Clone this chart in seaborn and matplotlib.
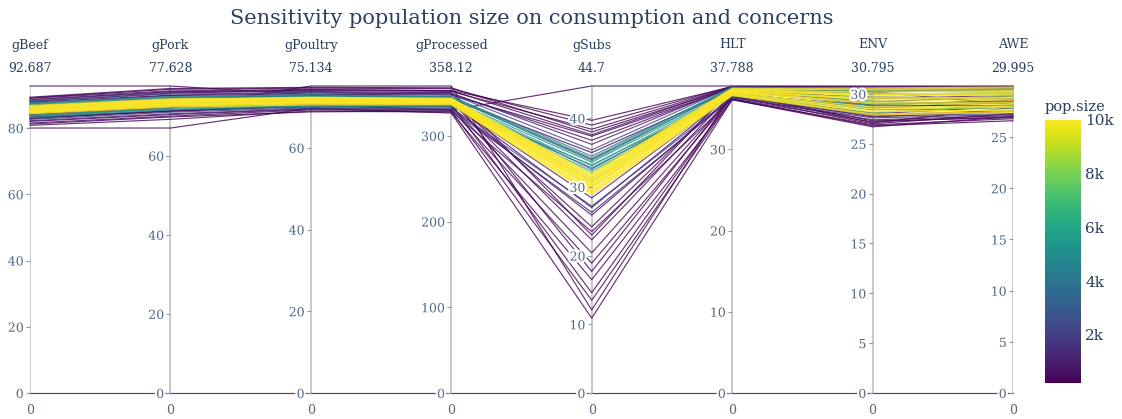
import matplotlib
matplotlib.use("Agg")
import matplotlib.pyplot as plt
import numpy as np
import pandas as pd
import seaborn as sns
from matplotlib import patheffects as pe
from matplotlib.ticker import MultipleLocator
from matplotlib.colors import Normalize
from matplotlib.cm import ScalarMappable

# ---- data: one record per simulation run, grouped by population size ----
dimensions = ["gBeef", "gPork", "gPoultry", "gProcessed", "gSubs", "HLT", "ENV", "AWE"]
tick_steps = [20, 20, 20, 100, 10, 10, 5, 5]

gBeef = [0, 92.687, 83.7, 82.8, 80.0, 81.2, 84.2, 86.7, 88.0, 89.3,
         80.8, 82.0, 83.4, 84.8, 86.0, 87.3, 88.6, 89.1,
         81.5, 83.0, 84.4, 86.2, 87.8, 89.0,
         82.2, 84.1, 86.9, 88.5,
         82.6, 85.4, 88.2,
         83.2, 87.6,
         83.5, 85.9, 87.4,
         83.8, 85.6, 87.1,
         84.7, 86.4,
         85.0, 86.2,
         85.2, 86.1, 84.6, 85.8, 86.5, 84.9, 85.5, 86.8, 84.3, 85.0, 86.3, 85.7, 84.8, 86.0, 85.3, 84.5, 86.6, 85.9]
gPork = [0, 77.628, 72.0, 71.3, 67.0, 69.8, 72.6, 74.7, 75.8, 77.0,
         69.2, 70.4, 71.2, 72.9, 73.8, 75.2, 76.2, 76.8,
         70.0, 71.4, 72.4, 74.1, 75.3, 76.4,
         70.6, 72.2, 74.5, 76.0,
         71.0, 73.2, 75.6,
         71.6, 75.0,
         71.8, 73.6, 74.8,
         72.0, 73.3, 74.6,
         72.7, 74.0,
         73.0, 73.9,
         73.4, 73.9, 72.8, 73.6, 74.2, 72.6, 73.1, 74.4, 72.3, 73.0, 74.0, 73.5, 72.9, 73.7, 73.2, 72.5, 74.1, 73.8]
gPoultry = [0, 73.0, 75.134, 70.5, 69.7, 68.8, 70.6, 72.8, 74.2, 74.8,
            69.0, 69.5, 70.3, 71.4, 72.0, 73.2, 74.0, 74.6,
            69.3, 70.0, 71.0, 72.5, 73.6, 74.3,
            69.6, 70.8, 72.7, 73.8,
            69.8, 71.6, 73.5,
            70.1, 73.0,
            70.2, 71.8, 72.9,
            70.4, 71.5, 72.6,
            71.0, 72.1,
            71.3, 72.0,
            71.6, 72.1, 71.0, 71.8, 72.4, 70.7, 71.3, 72.2, 70.5, 71.2, 72.0, 71.7, 71.1, 71.9, 71.4, 70.9, 72.3, 71.5]
gProcessed = [0, 350.5, 358.12, 330.0, 326.6, 329.0, 336.5, 345.5, 352.8, 356.0,
              327.6, 331.0, 334.8, 339.4, 342.0, 347.5, 351.8, 355.0,
              328.8, 333.5, 338.0, 343.2, 348.9, 352.5,
              330.5, 337.2, 344.2, 350.0,
              332.0, 340.6, 348.4,
              334.6, 346.0,
              335.2, 341.4, 345.3,
              336.0, 340.2, 344.6,
              338.5, 342.8,
              339.8, 342.2,
              340.5, 342.0, 338.2, 341.1, 343.5, 337.0, 339.6, 343.8, 336.4, 339.0, 342.6, 340.8, 338.8, 341.6, 340.0, 337.6, 343.0, 341.3]
gSubs = [0, 23.0, 12.1, 44.7, 10.9, 13.5, 14.6, 17.7, 39.7, 38.0,
         16.5, 18.9, 20.4, 22.3, 24.2, 37.4, 38.4, 39.0,
         23.5, 25.9, 27.0, 35.0, 36.8, 37.6,
         26.3, 28.4, 34.0, 36.2,
         27.2, 32.6, 35.4,
         33.2, 34.5,
         32.8, 33.6, 34.2,
         32.3, 33.1, 33.8,
         30.9, 32.0,
         30.0, 31.3,
         30.4, 31.2, 29.6, 30.8, 31.6, 29.2, 30.1, 31.9, 28.9, 29.9, 31.4, 30.6, 29.4, 31.0, 30.2, 29.0, 31.7, 30.5]
HLT = [0, 37.5, 36.9, 37.788, 36.1, 36.2, 36.5, 36.8, 37.7, 37.6,
       36.1, 36.4, 36.6, 36.9, 37.2, 37.5, 37.7, 37.75,
       36.2, 36.5, 36.9, 37.3, 37.6, 37.7,
       36.3, 36.8, 37.4, 37.7,
       36.4, 37.0, 37.7,
       36.6, 37.6,
       36.6, 37.2, 37.6,
       36.7, 37.1, 37.5,
       36.9, 37.3,
       37.0, 37.3,
       37.1, 37.3, 36.8, 37.2, 37.4, 36.7, 37.0, 37.5, 36.6, 36.9, 37.3, 37.1, 36.8, 37.2, 37.0, 36.7, 37.4, 37.1]
ENV = [0, 29.0, 27.1, 30.795, 26.7, 26.8, 27.0, 27.3, 30.6, 30.2,
       26.9, 27.4, 27.7, 28.0, 28.9, 29.5, 30.3, 30.7,
       27.2, 27.9, 28.6, 29.2, 30.2, 30.7,
       27.6, 28.8, 30.0, 30.6,
       27.8, 29.7, 30.5,
       28.1, 30.0,
       28.9, 29.3, 30.4,
       28.4, 29.6, 30.3,
       28.6, 30.1,
       29.1, 29.9,
       29.4, 30.2, 28.3, 29.8, 30.5, 28.0, 29.0, 30.6, 27.9, 28.7, 30.0, 29.5, 28.5, 29.9, 29.2, 28.2, 30.4, 29.6]
AWE = [0, 28.5, 27.9, 29.995, 27.0, 26.6, 27.3, 26.9, 29.8, 28.2,
       26.8, 27.1, 27.5, 28.0, 28.6, 29.1, 29.7, 29.9,
       27.0, 27.6, 28.4, 29.0, 29.6, 29.95,
       27.2, 28.1, 29.3, 29.9,
       27.3, 28.8, 29.8,
       28.2, 29.2,
       28.5, 27.8, 29.7,
       27.9, 28.7, 29.5,
       28.1, 29.0,
       28.3, 29.4,
       28.6, 29.5, 27.6, 29.1, 29.8, 27.5, 28.2, 29.9, 27.4, 28.0, 29.3, 28.8, 27.9, 29.2, 28.4, 27.7, 29.6, 28.9]
pop_size = [200, 200, 200, 200, 200, 200, 200, 200, 200, 200,
            300, 300, 300, 300, 300, 300, 300, 300,
            500, 500, 500, 500, 500, 500,
            1000, 1000, 1000, 1000,
            2000, 2000, 2000,
            4000, 4000,
            5000, 5000, 5000,
            6000, 6000, 6000,
            8000, 8000,
            9000, 9000,
            10000, 10000, 10000, 10000, 10000, 10000, 10000, 10000, 10000,
            10000, 10000, 10000, 10000, 10000, 10000, 10000, 10000, 10000]

df = pd.DataFrame({"gBeef": gBeef, "gPork": gPork, "gPoultry": gPoultry,
                   "gProcessed": gProcessed, "gSubs": gSubs, "HLT": HLT,
                   "ENV": ENV, "AWE": AWE, "pop.size": pop_size})
df["record"] = np.arange(len(df))

# each axis spans [min, max] of its own column
lo = df[dimensions].min()
hi = df[dimensions].max()

long = df.melt(id_vars=["record", "pop.size"], value_vars=dimensions,
               var_name="dimension", value_name="value")
long["axis"] = long["dimension"].map({d: i for i, d in enumerate(dimensions)})
long["scaled"] = (long["value"] - long["dimension"].map(lo)) / \
                 (long["dimension"].map(hi) - long["dimension"].map(lo))
long = long.sort_values(["pop.size", "record", "axis"])

# ---- figure ----
W_PX, H_PX = 1122, 419
fig = plt.figure(figsize=(W_PX / 100, H_PX / 100), dpi=100)
serif = "DejaVu Serif"
txt_color = "#2a3f5f"
tick_color = "#506784"

L, R, T, B = 30 / W_PX, 1013 / W_PX, 86 / H_PX, 393 / H_PX
ax = fig.add_axes([L, 1 - B, R - L, B - T])
ax.set_xlim(0, len(dimensions) - 1)
ax.set_ylim(0, 1)
ax.axis("off")

norm = Normalize(vmin=min(pop_size), vmax=max(pop_size))

# vertical axis bars underneath the polylines
ax.vlines(np.arange(len(dimensions)), 0, 1, color="#c4c4c4", lw=1.3, zorder=0)

sns.lineplot(data=long, x="axis", y="scaled", hue="pop.size", units="record",
             estimator=None, palette="viridis", hue_norm=norm, sort=False,
             legend=False, linewidth=0.85, alpha=0.8, ax=ax)
for ln in ax.lines:
    ln.set_clip_on(False)

halo = [pe.withStroke(linewidth=3, foreground="white")]
span = (R - L) / (len(dimensions) - 1)
for j, name in enumerate(dimensions):
    xj = L + j * span
    dax = fig.add_axes([xj, 1 - B, 1e-5, B - T])
    dax.patch.set_visible(False)
    for s in dax.spines.values():
        s.set_visible(False)
    dax.set_xticks([])
    dax.set_ylim(lo[name], hi[name])
    dax.yaxis.set_major_locator(MultipleLocator(tick_steps[j]))
    dax.tick_params(axis="y", direction="out", length=3, width=0.8,
                    color="#9a9a9a", labelsize=9, labelcolor=tick_color, pad=1.5)
    for lbl in dax.get_yticklabels():
        lbl.set_family(serif)
        lbl.set_path_effects(halo)

    fig.text(xj, 1 - 45 / H_PX, name, ha="center", va="center",
             family=serif, fontsize=9, color=txt_color)
    fig.text(xj, 1 - 68 / H_PX, f"{hi[name]:.5g}", ha="center", va="center",
             family=serif, fontsize=9, color=txt_color)
    fig.text(xj, 1 - 410 / H_PX, f"{lo[name]:.5g}", ha="center", va="center",
             family=serif, fontsize=9, color=tick_color)

fig.text(532 / W_PX, 1 - 18 / H_PX,
         "Sensitivity population size on consumption and concerns",
         ha="center", va="center", family=serif, fontsize=15, color=txt_color)

# colour scale
cax = fig.add_axes([1045 / W_PX, 1 - 383 / H_PX, 36 / W_PX, 263 / H_PX])
cb = fig.colorbar(ScalarMappable(norm=norm, cmap="viridis"), cax=cax)
cb.outline.set_visible(False)
cb_ticks = [2000, 4000, 6000, 8000, 10000]
cb.set_ticks(cb_ticks)
cb.set_ticklabels([f"{t // 1000}k" for t in cb_ticks])
cax.tick_params(length=0, labelsize=11, labelcolor=txt_color, pad=3)
for lbl in cax.get_yticklabels():
    lbl.set_family(serif)
fig.text(1075 / W_PX, 1 - 107 / H_PX, "pop.size", ha="center", va="center",
         family=serif, fontsize=10.5, color=txt_color)

fig.savefig("out.png", dpi=100, facecolor="white")
